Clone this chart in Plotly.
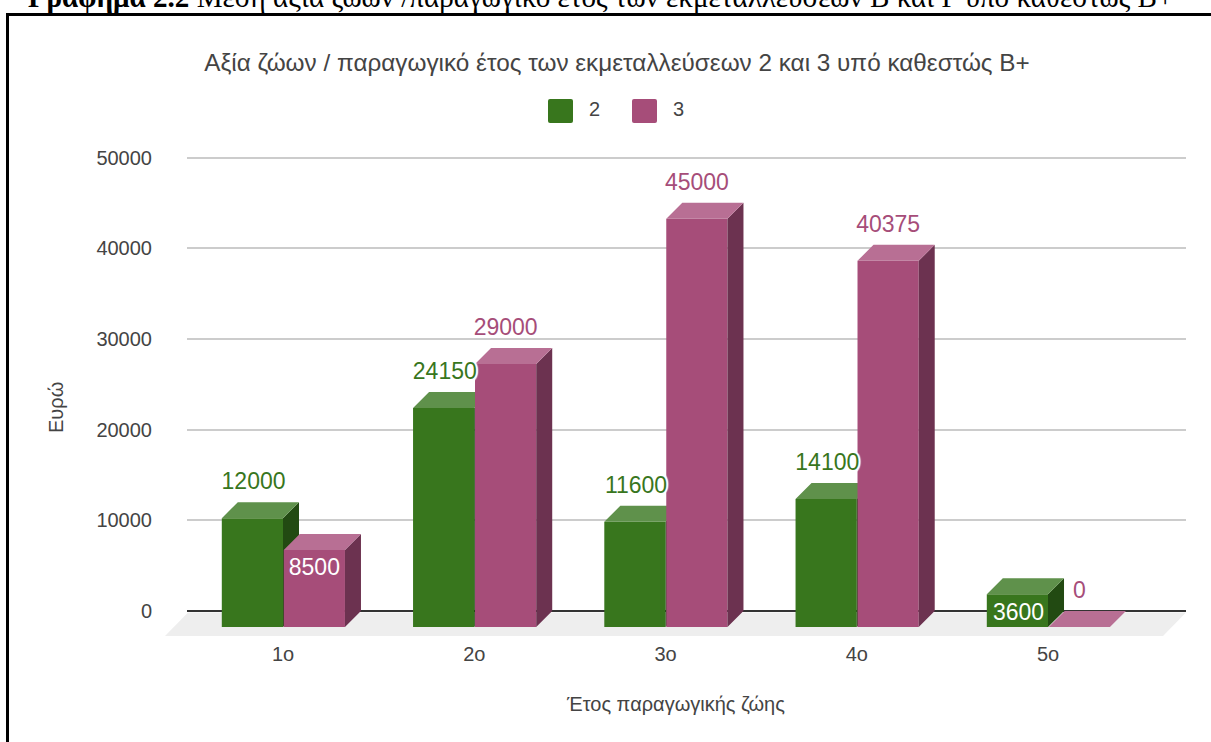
import plotly.graph_objects as go

categories = ["1ο", "2ο", "3ο", "4ο", "5ο"]
series_2 = [12000, 24150, 11600, 14100, 3600]
series_3 = [8500, 29000, 45000, 40375, 0]
inside_2 = [False, False, False, False, True]
inside_3 = [True, False, False, False, False]
y_ticks = [0, 10000, 20000, 30000, 40000, 50000]

W, H = 1211, 742
GREEN = ("#38761d", "#5f914b", "#224a12")
PINK = ("#a64d79", "#b86f94", "#6c3250")
BAR_W = 0.32           # category units
GAP = 0.004
DX = 0.0837            # depth of the faux 3D box, category units
DY = 1764              # depth of the faux 3D box, value units
LABEL_UP = 2050
LABEL_DOWN = 2150


def px(x):
    return x / W


def py(y):
    return 1 - y / H


def faces(values, left_off):
    top_x, top_y, side_x, side_y = [], [], [], []
    for i, v in enumerate(values):
        xl, xr = i + left_off, i + left_off + BAR_W
        top_x += [xl, xl + DX, xr + DX, xr, None]
        top_y += [v - DY, v, v, v - DY, None]
        side_x += [xr, xr + DX, xr + DX, xr, None]
        side_y += [-DY, 0, v, v - DY, None]
    return top_x, top_y, side_x, side_y


def add_box_series(fig, name, values, left_off, colors, xa, ya):
    top_x, top_y, side_x, side_y = faces(values, left_off)
    fig.add_trace(go.Bar(
        x=list(range(len(values))), y=values, base=-DY, width=BAR_W, offset=left_off,
        name=name, marker=dict(color=colors[0], line=dict(width=0)),
        xaxis=xa, yaxis=ya, showlegend=False))
    for xs, ys, c in ((side_x, side_y, colors[2]), (top_x, top_y, colors[1])):
        fig.add_trace(go.Scatter(
            x=xs, y=ys, mode="lines", fill="toself", fillcolor=c,
            line=dict(width=0), hoverinfo="skip", showlegend=False,
            xaxis=xa, yaxis=ya))


fig = go.Figure()
add_box_series(fig, "2", series_2, -BAR_W, GREEN, "x", "y")
add_box_series(fig, "3", series_3, GAP, PINK, "x2", "y2")

halo = ("2px 0 1px #fff, -2px 0 1px #fff, 0 2px 1px #fff, 0 -2px 1px #fff, "
        "1.5px 1.5px 1px #fff, -1.5px -1.5px 1px #fff, 1.5px -1.5px 1px #fff, -1.5px 1.5px 1px #fff")
for values, inside, off, col in ((series_2, inside_2, -BAR_W / 2 + 0.006, GREEN[0]),
                                 (series_3, inside_3, GAP + BAR_W / 2, PINK[0])):
    out_i = [i for i, f in enumerate(inside) if not f]
    in_i = [i for i, f in enumerate(inside) if f]
    fig.add_trace(go.Scatter(
        x=[i + off for i in out_i], y=[values[i] + LABEL_UP for i in out_i],
        text=[str(values[i]) for i in out_i], mode="text", textposition="middle center",
        textfont=dict(family="Liberation Sans", size=23, color=col, shadow=halo),
        hoverinfo="skip", showlegend=False, xaxis="x2", yaxis="y2", cliponaxis=False))
    fig.add_trace(go.Scatter(
        x=[i + off for i in in_i], y=[values[i] - DY - LABEL_DOWN for i in in_i],
        text=[str(values[i]) for i in in_i], mode="text", textposition="middle center",
        textfont=dict(family="Liberation Sans", size=23, color="#ffffff"),
        hoverinfo="skip", showlegend=False, xaxis="x2", yaxis="y2", cliponaxis=False))

XR = [(187 - 283) / 191.25, (1186 - 283) / 191.25]
YR = [-(640 - 611) / 9.07 * 1000, (611 - 150) / 9.07 * 1000]
DOMX = [px(187), px(1186)]
DOMY = [py(640), py(150)]
TXT = "#444444"

rounded = lambda x0, y0, x1, y1: (
    f"M{px(x0+2)},{py(y0)} L{px(x1-2)},{py(y0)} Q{px(x1)},{py(y0)} {px(x1)},{py(y0+2)} "
    f"L{px(x1)},{py(y1-2)} Q{px(x1)},{py(y1)} {px(x1-2)},{py(y1)} L{px(x0+2)},{py(y1)} "
    f"Q{px(x0)},{py(y1)} {px(x0)},{py(y1-2)} L{px(x0)},{py(y0+2)} Q{px(x0)},{py(y0)} {px(x0+2)},{py(y0)} Z")

floor_y0, floor_y1 = py(612.5), py(636)
shapes = [
    dict(type="path", xref="paper", yref="paper", layer="below",
         path=f"M{px(188)},{floor_y0} L{px(1186)},{floor_y0} L{px(1163)},{floor_y1} L{px(165)},{floor_y1} Z",
         fillcolor="#eeeeee", line=dict(width=0)),
    dict(type="path", xref="paper", yref="paper", path=rounded(548, 99, 573, 123),
         fillcolor=GREEN[0], line=dict(width=0)),
    dict(type="path", xref="paper", yref="paper", path=rounded(632, 99, 657, 123),
         fillcolor=PINK[0], line=dict(width=0)),
    dict(type="line", xref="paper", yref="paper", x0=px(7.5), x1=px(7.5), y0=0, y1=py(14),
         line=dict(color="#000000", width=3)),
    dict(type="line", xref="paper", yref="paper", x0=px(6), x1=1, y0=py(14.5), y1=py(14.5),
         line=dict(color="#000000", width=3)),
]


def label(text, x, y, size=20, angle=0):
    return dict(text=text, xref="paper", yref="paper", x=px(x), y=py(y), xanchor="center", yanchor="middle",
                textangle=angle, showarrow=False,
                font=dict(family="Liberation Sans", size=size, color=TXT))


annotations = [
    dict(text="<b>Γράφημα 2.2</b> Μέση αξία ζώων /παραγωγικό έτος των εκμεταλλεύσεων Β και Γ υπό καθεστώς Β+",
         xref="paper", yref="paper", x=px(26), y=py(15), xanchor="left", yanchor="bottom",
         showarrow=False, font=dict(family="Liberation Serif", size=29.1, color="#000000")),
    label("2", 594, 109),
    label("3", 678, 109),
    label("Ευρώ", 56, 408, angle=-90),
    label("Έτος παραγωγικής ζώης", 675, 704),
]

fig.update_layout(
    width=W, height=H, margin=dict(l=0, r=0, t=0, b=0, autoexpand=False),
    paper_bgcolor="#ffffff", plot_bgcolor="rgba(0,0,0,0)",
    showlegend=False, barmode="overlay", shapes=shapes, annotations=annotations,
    title=dict(text="Αξία ζώων / παραγωγικό έτος των εκμεταλλεύσεων 2 και 3 υπό καθεστώς Β+",
               x=px(617), y=py(62), xanchor="center", yanchor="middle", automargin=False,
               font=dict(family="Liberation Sans", size=24.3, color=TXT)),
    xaxis=dict(domain=DOMX, range=XR, tickmode="array", tickvals=list(range(5)), ticktext=categories,
               showgrid=False, zeroline=False, showline=False, ticks="", ticklabelstandoff=0, automargin=False,
               tickfont=dict(family="Liberation Sans", size=20, color=TXT)),
    yaxis=dict(domain=DOMY, range=YR, tickmode="array", tickvals=y_ticks,
               ticktext=[str(t) for t in y_ticks],
               showgrid=True, gridcolor="#cccccc", gridwidth=2,
               zeroline=True, zerolinecolor="#333333", zerolinewidth=2,
               showline=False, ticks="", ticklabelstandoff=34, automargin=False,
               tickfont=dict(family="Liberation Sans", size=20, color=TXT)),
    xaxis2=dict(domain=DOMX, range=XR, overlaying="x", anchor="y2", visible=False),
    yaxis2=dict(domain=DOMY, range=YR, overlaying="y", anchor="x2", visible=False),
)

fig.write_html("out.html", post_script="document.body.style.margin='0';document.body.style.overflow='hidden';",
               config=dict(displayModeBar=False))
